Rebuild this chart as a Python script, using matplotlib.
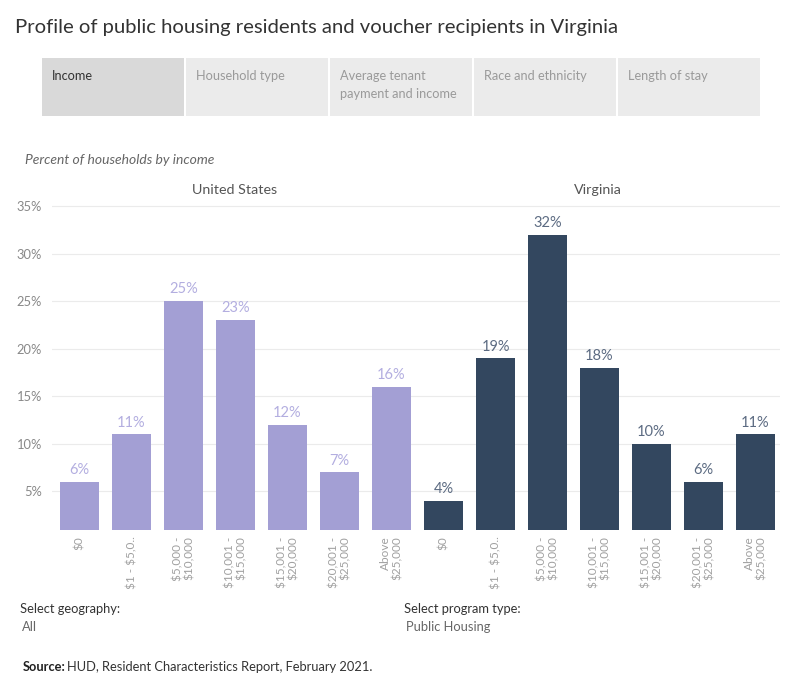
import matplotlib
matplotlib.use('Agg')
import matplotlib.pyplot as plt
from matplotlib.patches import Rectangle

plt.rcParams['font.family'] = ['Lato', 'DejaVu Sans']

# 数据
income_labels = [r'\$0', r'\$1 - \$5,0..', '\\$5,000 -\n\\$10,000', '\\$10,001 -\n\\$15,000',
                 '\\$15,001 -\n\\$20,000', '\\$20,001 -\n\\$25,000', 'Above\n\\$25,000']
us_values = [6, 11, 25, 23, 12, 7, 16]
va_values = [4, 19, 32, 18, 10, 6, 11]
y_ticks = [5, 10, 15, 20, 25, 30, 35]
tabs = ['Income', 'Household type', 'Average tenant\npayment and income',
        'Race and ethnicity', 'Length of stay']

W, H = 799, 699
US_COLOR = '#a39fd4'
VA_COLOR = '#33475f'


def fx(x):
    return x / W


def fy(y):
    return 1 - y / H


fig = plt.figure(figsize=(W / 100, H / 100), dpi=100)
fig.patch.set_facecolor('white')

# 标题
fig.text(fx(15), fy(27), 'Profile of public housing residents and voucher recipients in Virginia',
         fontsize=14.6, color='#333333', va='center', ha='left')

# 选项卡
for i, t in enumerate(tabs):
    x0 = 42 + i * 144
    fig.patches.append(Rectangle((fx(x0), fy(116)), fx(142), 58 / H,
                                 transform=fig.transFigure,
                                 facecolor='#d9d9d9' if i == 0 else '#ebebeb',
                                 edgecolor='none'))
    fig.text(fx(x0 + 10), fy(70), t, fontsize=9.2,
             color='#333333' if i == 0 else '#9a9a9a', va='top', ha='left',
             linespacing=1.55)

fig.text(fx(25), fy(160), 'Percent of households by income', fontsize=10,
         style='italic', color='#666666', va='center')
fig.text(fx(235), fy(190), 'United States', fontsize=10.3, color='#555555',
         va='center', ha='center')
fig.text(fx(598), fy(190), 'Virginia', fontsize=10.3, color='#555555',
         va='center', ha='center')

# 柱状图
ax = fig.add_axes([fx(52), fy(529.5), fx(780 - 52), (529.5 - 204) / H])
n = len(income_labels)
values = us_values + va_values
colors = [US_COLOR] * n + [VA_COLOR] * n
label_colors = ['#b3aee0'] * n + ['#5c6b82'] * n
xs = list(range(2 * n))
ax.bar(xs, values, width=0.75, color=colors, zorder=2)
for x, v, c in zip(xs, values, label_colors):
    ax.annotate(f'{v}%', (x, v), xytext=(0, 3.5), textcoords='offset points',
                ha='center', va='bottom', fontsize=10.5, color=c)

ax.set_xlim(-0.529, 2 * n - 1 + 0.471)
ax.set_ylim(1.0, 35.24)
ax.set_yticks(y_ticks)
ax.set_yticklabels([f'{t}%' for t in y_ticks])
ax.set_xticks(xs)
ax.set_xticklabels(income_labels * 2, rotation=90, va='top', ha='center',
                   multialignment='right', linespacing=1.1)
ax.tick_params(axis='x', length=0, pad=5, labelsize=8.5, labelcolor='#a0a0a0')
ax.tick_params(axis='y', length=0, pad=7, labelsize=9.3, labelcolor='#888888')
ax.grid(axis='y', color='#ebebeb', linewidth=0.8, zorder=0)
for s in ax.spines.values():
    s.set_visible(False)

# 筛选器和来源
fig.text(fx(20), fy(609), 'Select geography:', fontsize=9.3, color='#333333', va='center')
fig.text(fx(22), fy(627), 'All', fontsize=9.3, color='#666666', va='center')
fig.text(fx(404), fy(609), 'Select program type:', fontsize=9.3, color='#333333', va='center')
fig.text(fx(406), fy(627), 'Public Housing', fontsize=9.3, color='#666666', va='center')
fig.text(fx(23), fy(667), 'Source:', fontsize=9.3, color='#222222', fontweight='bold', va='center')
fig.text(fx(67), fy(667), 'HUD, Resident Characteristics Report, February 2021.', fontsize=9.3,
         color='#333333', va='center')

plt.savefig('out.png', dpi=100)
plt.close()
